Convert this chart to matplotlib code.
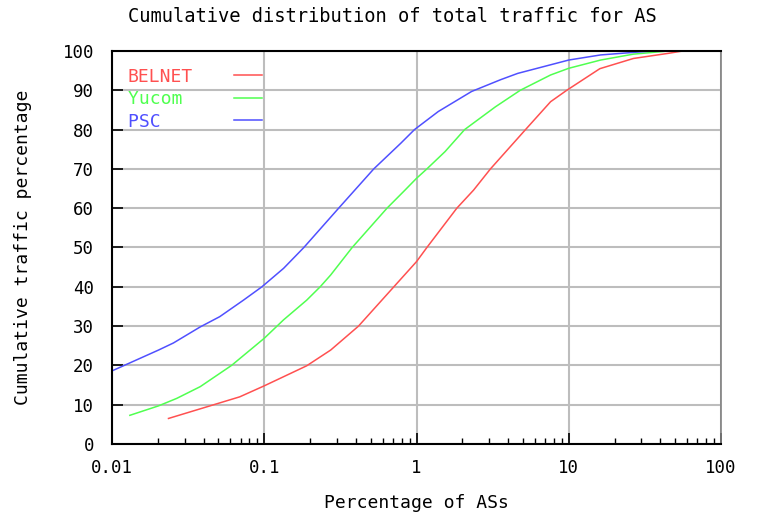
import numpy as np
import matplotlib.pyplot as plt
from matplotlib.ticker import LogLocator, FixedLocator, NullFormatter

# datos (x en % de ASs, y en % de trafico acumulado)
belnet_x = [0.0235, 0.044, 0.069, 0.1, 0.19, 0.273, 0.416, 0.71, 1.0, 1.17, 1.84, 2.37, 3.06, 5.2, 7.6, 9.7, 16, 26.6, 45, 56]
belnet_y = [6.5, 9.7, 12.0, 14.8, 19.9, 23.9, 30, 40, 46.4, 50, 60, 64.6, 70, 80, 87.1, 90, 95.5, 98.1, 99.4, 100]

yucom_x = [0.0131, 0.0202, 0.0266, 0.038, 0.061, 0.1, 0.134, 0.19, 0.233, 0.273, 0.378, 0.64, 0.84,
           1.0, 1.17, 1.54, 2.07, 3.3, 4.8, 7.6, 10, 16.2, 26.6, 45]
yucom_y = [7.3, 9.7, 11.6, 14.6, 20.0, 26.9, 31.6, 36.6, 40, 43, 50, 60, 64.6,
           67.6, 70, 74.4, 80, 85.8, 90, 93.9, 95.6, 97.7, 99.2, 100]

psc_x = [0.01, 0.0202, 0.0253, 0.038, 0.051, 0.073, 0.0965, 0.134, 0.182, 0.308, 0.524, 0.787, 0.97,
         1.39, 2.3, 3.57, 4.62, 10, 16.2, 35, 100]
psc_y = [18.6, 23.9, 25.7, 29.8, 32.4, 36.6, 40, 44.7, 50, 60, 70, 76.5, 80,
         84.6, 89.7, 92.7, 94.3, 97.7, 99, 100, 100]

series = ["BELNET", "Yucom", "PSC"]
colores = ["#ff5050", "#50ff50", "#5050ff"]

xticks = [0.01, 0.1, 1, 10, 100]
xtick_labels = ["0.01", "0.1", "1", "10", "100"]
yticks = list(range(0, 101, 10))

plt.rcParams['font.family'] = ['DejaVu Sans Mono']

fig = plt.figure(figsize=(7.68, 5.15), dpi=100)
ax = fig.add_axes([112/768, 71/515, 609/768, 393/515])

datos = [(belnet_x, belnet_y), (yucom_x, yucom_y), (psc_x, psc_y)]
for (x, y), nombre, c in zip(datos, series, colores):
    ax.plot(x, y, color=c, lw=1.1, label=nombre.ljust(6))

ax.set_xscale('log')
ax.set_xlim(0.01, 100)
ax.set_ylim(0, 100)
ax.xaxis.set_major_locator(FixedLocator(xticks))
ax.set_xticklabels(xtick_labels)
ax.xaxis.set_minor_locator(LogLocator(base=10, subs=np.arange(2, 10)))
ax.xaxis.set_minor_formatter(NullFormatter())
ax.set_yticks(yticks)

ax.grid(True, which='major', color='#bdbdbd', lw=1.5)
ax.set_axisbelow(True)
ax.tick_params(axis='both', which='major', direction='in', length=8, width=1.2,
               labelsize=12.5, top=False, right=False)
ax.tick_params(axis='y', which='major', pad=13)
ax.tick_params(axis='x', which='minor', direction='in', length=4, width=1.0, top=False)
ax.tick_params(axis='x', which='major', pad=11)

for s in ['left', 'bottom', 'top']:
    ax.spines[s].set_color('black')
    ax.spines[s].set_linewidth(1.5)
ax.spines['right'].set_color('#808080')
ax.spines['right'].set_linewidth(1.2)

ax.set_xlabel('Percentage of ASs', fontsize=13, labelpad=12)
ax.set_ylabel('Cumulative traffic percentage', fontsize=13, labelpad=22)
fig.text(392/768, 1 - 16/515, 'Cumulative distribution of total traffic for AS',
         fontsize=13.5, ha='center', va='center')

leg = ax.legend(loc='upper left', markerfirst=False, frameon=False, fontsize=13,
                labelcolor='linecolor', handlelength=1.5, handletextpad=2.3,
                labelspacing=0.25, borderaxespad=0.3, bbox_to_anchor=(0.005, 0.99))

plt.savefig('out.png', dpi=100)
